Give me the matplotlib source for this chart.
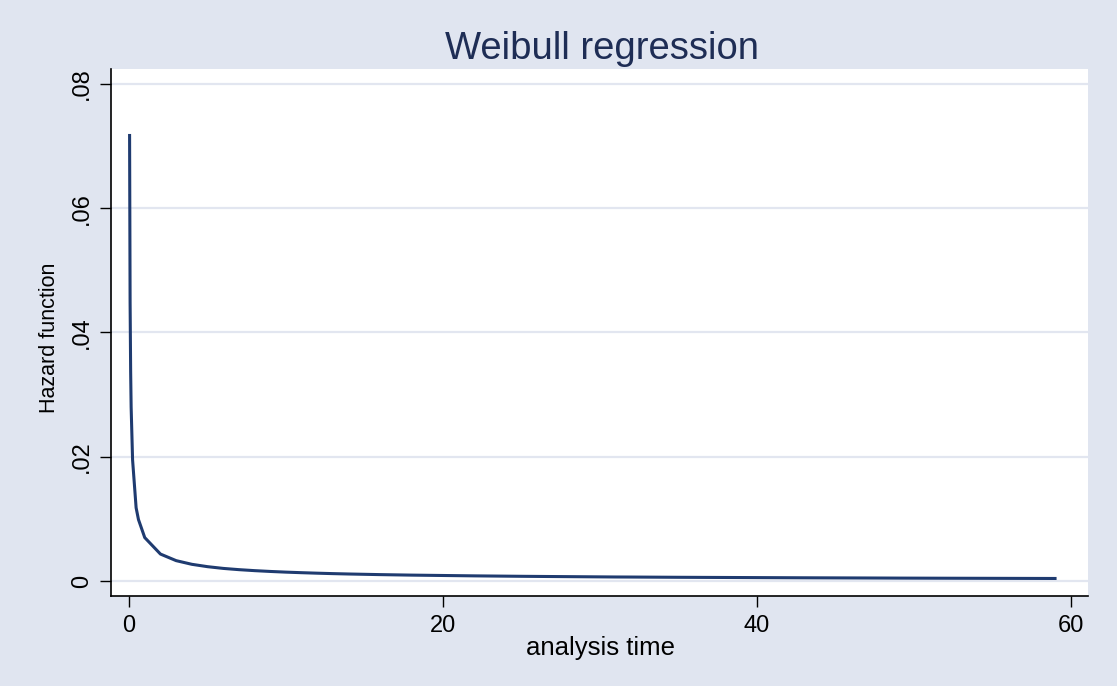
"""
Weibull regression - hazard function against analysis time
"""
import numpy as np
import matplotlib.pyplot as plt

plt.rcParams['font.family'] = ['Liberation Sans', 'DejaVu Sans']

# values
time = [0.034, 0.067, 0.102, 0.133, 0.225, 0.45, 0.6, 1, 2, 3, 4, 5, 6, 7, 8,
        9, 10, 11, 12, 13, 14, 15, 16, 17, 18, 22, 25, 26, 31, 32, 35, 38, 39,
        43, 48, 49, 52, 59]
hazard = [0.0717, 0.0449, 0.0337, 0.0280, 0.0195, 0.0118, 0.0099, 0.0070,
          0.00435, 0.00329, 0.0027, 0.00232, 0.00204, 0.00184, 0.00168,
          0.00155, 0.00144, 0.00135, 0.00127, 0.0012, 0.00114, 0.00109,
          0.00104, 0.0010, 0.00096, 0.00084, 0.00077, 0.00075, 0.00066,
          0.00065, 0.00061, 0.00058, 0.00057, 0.00053, 0.00049, 0.00048,
          0.00046, 0.00042]
xticks = [0, 20, 40, 60]
yticks = [0, 0.02, 0.04, 0.06, 0.08]
ytick_labels = ['0', '.02', '.04', '.06', '.08']

bg = '#E0E5F0'
grid_col = '#E2E6F0'
line_col = '#1F3B70'

fig = plt.figure(figsize=(11.17, 6.86), dpi=100, facecolor=bg)
ax = fig.add_axes([111/1117, 1 - 596/686, (1088 - 111)/1117, (596 - 69)/686])
ax.set_facecolor('white')

for y in yticks:
    ax.axhline(y, color=grid_col, lw=1.6, zorder=0)

ax.plot(time, hazard, color=line_col, lw=2.2, zorder=3)

ax.set_xlim(-1.15, 61.1)
ax.set_ylim(-0.0024, 0.0824)
ax.set_xticks(xticks)
ax.set_xticklabels([str(x) for x in xticks])
ax.set_yticks(yticks)
ax.set_yticklabels(ytick_labels, rotation=90, va='center')

for side in ['top', 'right']:
    ax.spines[side].set_visible(False)
for side in ['left', 'bottom']:
    ax.spines[side].set_linewidth(1.2)
    ax.spines[side].set_color('black')

ax.tick_params(axis='both', length=8, width=1, labelsize=17, colors='black')
ax.tick_params(axis='x', pad=5.5)
ax.tick_params(axis='y', pad=5)

fig.text(602/1117, 1 - 59/686, 'Weibull regression', fontsize=27.5,
         color='#1E2D55', ha='center', va='baseline')
fig.text(600/1117, 1 - 655/686, 'analysis time', fontsize=18.5,
         ha='center', va='baseline')
fig.text(50/1117, 1 - 338/686, 'Hazard function', fontsize=15.5,
         rotation=90, ha='center', va='center')

fig.savefig('out.png', dpi=100, facecolor=bg)
